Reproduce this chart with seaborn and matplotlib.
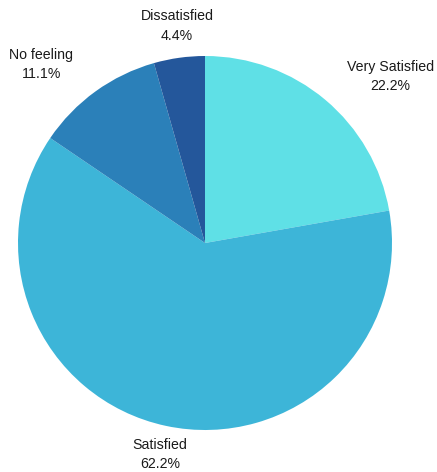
import matplotlib
matplotlib.use("Agg")
import matplotlib.pyplot as plt
import seaborn as sns

labels = ["Very Satisfied", "Satisfied", "No feeling", "Dissatisfied"]
shares = [22.2, 62.2, 11.1, 4.4]
colors = ["#5fe0e6", "#3db5d8", "#2b80b9", "#24579b"]

# label anchor points, in pie radius units
label_x = [0.99, -0.24, -0.875, -0.15]
label_y = [0.89, -1.13, 0.955, 1.16]

sns.set_theme(style="white")
plt.rcParams["font.family"] = ["Liberation Sans", "DejaVu Sans"]

fig = plt.figure(figsize=(4.37, 4.72), dpi=100)
ax = fig.add_axes([18 / 437, 42 / 472, 374 / 437, 374 / 472])

ax.pie(shares, colors=colors, startangle=90, counterclock=False,
       radius=1, wedgeprops=dict(linewidth=0))
ax.set_xlim(-1, 1)
ax.set_ylim(-1, 1)
ax.set_aspect("equal")
ax.axis("off")

for name, val, x, y in zip(labels, shares, label_x, label_y):
    ax.text(x, y, f"{name}\n{val:.1f}%", ha="center", va="center",
            fontsize=10.2, color="#1a1a1a", linespacing=1.5, clip_on=False)

fig.savefig("out.png", dpi=100)
